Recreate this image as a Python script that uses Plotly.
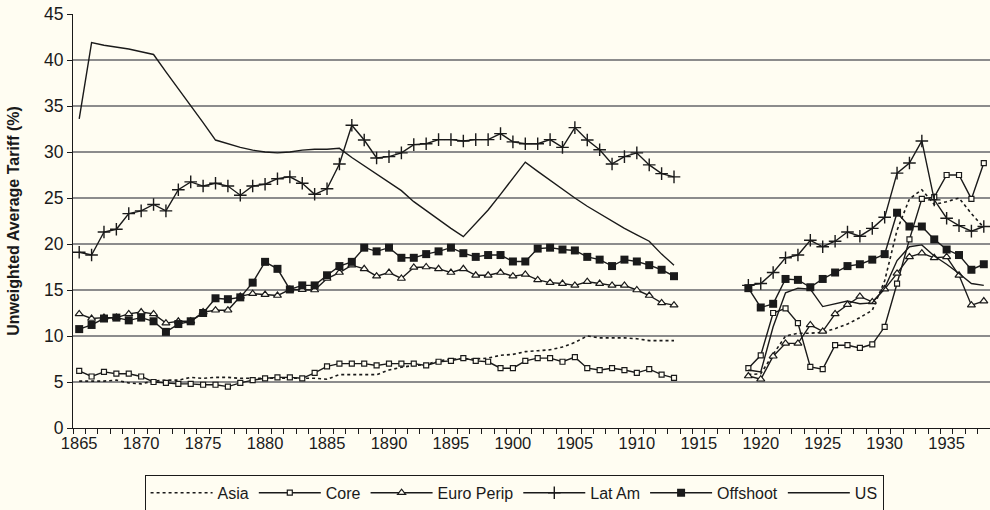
import plotly.graph_objects as go

years_pre = list(range(1865, 1914))
years_post = list(range(1919, 1939))
gap_years = list(range(1914, 1919))
years = years_pre + gap_years + years_post

asia_pre = [5.1, 5.1, 5.1, 5.2, 4.9, 4.8, 5.1, 5.2, 5.2, 5.5, 5.4, 5.5, 5.5, 5.4, 5.4,
            5.4, 5.4, 5.4, 5.4, 5.4, 5.3, 5.8, 5.8, 5.8, 5.8, 6.3, 6.6, 6.8, 6.9, 7.3,
            7.5, 7.5, 7.5, 7.6, 7.9, 8.0, 8.3, 8.4, 8.5, 8.8, 9.3, 10.0, 9.8, 9.8, 9.8,
            9.7, 9.5, 9.5, 9.5]
asia_post = [5.8, 5.9, 8.0, 10.0, 10.3, 10.3, 10.4, 10.8, 11.3, 12.0, 12.8, 16.0, 21.5,
             24.9, 25.9, 24.3, 24.6, 25.0, 23.3, 21.8]

core_pre = [6.2, 5.6, 6.1, 5.9, 5.9, 5.6, 5.0, 4.9, 4.8, 4.8, 4.7, 4.7, 4.5, 4.9, 5.2,
            5.4, 5.5, 5.5, 5.4, 6.0, 6.7, 7.0, 7.0, 7.0, 6.8, 7.0, 7.0, 7.0, 6.8, 7.2,
            7.3, 7.6, 7.3, 7.2, 6.5, 6.5, 7.3, 7.6, 7.6, 7.2, 7.7, 6.5, 6.3, 6.5, 6.3,
            6.0, 6.4, 5.8, 5.45]
core_post = [6.5, 7.9, 12.5, 13.0, 11.4, 6.65, 6.4, 9.0, 9.0, 8.7, 9.1, 11.0, 15.7,
             20.5, 24.9, 25.1, 27.5, 27.5, 24.9, 28.8]

euro_pre = [12.4, 11.9, 12.0, 12.0, 12.4, 12.6, 12.4, 11.4, 11.6, 11.6, 12.6, 12.8, 12.8,
            14.3, 14.6, 14.5, 14.4, 15.05, 15.05, 15.0, 16.25, 16.9, 17.7, 17.3, 16.5,
            16.9, 16.25, 17.45, 17.5, 17.3, 16.9, 17.3, 16.6, 16.6, 16.9, 16.5, 16.7,
            16.1, 15.8, 15.7, 15.5, 15.9, 15.7, 15.5, 15.5, 15.0, 14.4, 13.6, 13.35]
euro_post = [5.65, 5.3, 7.8, 9.2, 9.2, 11.2, 10.5, 12.4, 13.4, 14.3, 13.7, 15.1, 16.8,
             18.6, 19.0, 18.5, 18.6, 16.6, 13.35, 13.8]

latam_pre = [19.1, 18.8, 21.3, 21.6, 23.3, 23.6, 24.3, 23.6, 25.9, 26.75, 26.3, 26.6, 26.3,
             25.3, 26.3, 26.5, 27.1, 27.3, 26.6, 25.4, 26.0, 28.7, 32.9, 31.3, 29.35,
             29.5, 29.9, 30.8, 30.9, 31.35, 31.35, 31.2, 31.35, 31.35, 32.0, 31.1, 30.9,
             30.9, 31.35, 30.5, 32.65, 31.3, 30.25, 28.7, 29.5, 29.9, 28.6, 27.65, 27.3]
latam_post = [15.5, 15.7, 16.9, 18.5, 18.8, 20.4, 19.7, 20.3, 21.3, 20.85, 21.7, 22.9,
              27.7, 28.8, 31.2, 24.8, 22.8, 22.0, 21.4, 21.9]

offshoot_pre = [10.75, 11.2, 11.9, 12.0, 11.7, 12.0, 11.6, 10.45, 11.3, 11.6, 12.5, 14.1,
                14.0, 14.2, 15.8, 18.06, 17.3, 15.06, 15.5, 15.5, 16.6, 17.6, 18.06, 19.6,
                19.2, 19.6, 18.5, 18.5, 18.9, 19.2, 19.6, 19.0, 18.6, 18.8, 18.8, 18.1,
                18.1, 19.5, 19.6, 19.4, 19.3, 18.6, 18.3, 17.6, 18.3, 18.1, 17.7, 17.2, 16.5]
offshoot_post = [15.2, 13.1, 13.5, 16.2, 16.1, 15.3, 16.2, 16.9, 17.6, 17.8, 18.3, 18.9,
                 23.4, 21.9, 21.9, 20.5, 19.4, 18.8, 17.2, 17.8]

us_pre = [33.6, 41.9, 41.6, 41.4, 41.2, 40.9, 40.6, 38.7, 36.9, 35.0, 33.2, 31.3, 30.9,
          30.5, 30.2, 30.0, 29.9, 30.0, 30.2, 30.3, 30.3, 30.4, 29.4, 28.5, 27.6, 26.7,
          25.8, 24.6, 23.6, 22.7, 21.7, 20.8, 22.2, 23.7, 25.4, 27.1, 28.9, 27.9, 26.9,
          26.0, 25.0, 24.1, 23.3, 22.5, 21.7, 21.0, 20.3, 18.9, 17.7]
us_post = [6.3, 6.1, 11.0, 14.7, 15.2, 15.1, 13.2, 13.5, 13.8, 13.5, 13.6, 15.2, 18.2,
           19.7, 19.9, 18.7, 17.8, 16.8, 15.7, 15.5]

tick_years = list(range(1865, 1940, 5))
y_ticks = list(range(0, 50, 5))

def full(pre, post):
    return pre + [None] * len(gap_years) + post

BG = "#FFFDF2"
INK = "#1a1a1a"

fig = go.Figure()
series = [
    ("Asia", full(asia_pre, asia_post), dict(width=1.6, dash="dot"), None),
    ("Core", full(core_pre, core_post), dict(width=1.4),
     dict(symbol="square", size=5, color=BG, line=dict(color=INK, width=1.2))),
    ("Euro Perip", full(euro_pre, euro_post), dict(width=1.4),
     dict(symbol="triangle-up", size=7, color=BG, line=dict(color=INK, width=1.2))),
    ("Lat Am", full(latam_pre, latam_post), dict(width=1.4),
     dict(symbol="cross-thin", size=9, color=INK, line=dict(color=INK, width=1.4))),
    ("Offshoot", full(offshoot_pre, offshoot_post), dict(width=1.4),
     dict(symbol="square", size=8, color=INK, line=dict(color=INK, width=0))),
    ("US", full(us_pre, us_post), dict(width=1.4), None),
]
for name, vals, line, marker in series:
    kw = dict(x=years, y=vals, name=name, connectgaps=False,
              line=dict(color=INK, **line))
    if marker is None:
        kw["mode"] = "lines"
    else:
        kw["mode"] = "lines+markers"
        kw["marker"] = marker
    fig.add_trace(go.Scatter(**kw))

fig.update_layout(
    width=990, height=510,
    paper_bgcolor=BG, plot_bgcolor=BG,
    margin=dict(l=73, r=0, t=14, b=82, autoexpand=False),
    font=dict(family="Liberation Sans, Arial, sans-serif", color=INK, size=16),
    showlegend=True,
    legend=dict(orientation="h", x=0.481, xanchor="center", y=-0.113, yanchor="top",
                bordercolor=INK, borderwidth=1, bgcolor=BG,
                font=dict(size=16, family="Liberation Sans, Arial"),
                itemwidth=62, tracegroupgap=0),
)
fig.update_xaxes(
    range=[1864.5, 1938.5], tickvals=tick_years, ticktext=[str(y) for y in tick_years],
    ticks="", showgrid=False, zeroline=False,
    showline=True, linecolor=INK, linewidth=1,
    tickfont=dict(size=16.5),
    minor=dict(tick0=1864.5, dtick=1, ticks="outside", ticklen=5, tickcolor=INK,
               showgrid=False),
)
fig.update_yaxes(
    range=[0, 45], tickvals=y_ticks, ticks="outside", ticklen=5, tickcolor=INK,
    showgrid=True, gridcolor="#8c8c8c", gridwidth=1.5, zeroline=False,
    showline=True, linecolor=INK, linewidth=1,
    tickfont=dict(size=17.5),
    title=dict(text="<b>Unweighted Average Tariff (%)</b>", font=dict(size=16), standoff=20),
)

fig.write_html(
    "out.html",
    config={"displayModeBar": False},
    post_script="document.body.style.margin='0px';document.body.style.background='#FFFDF2';",
)
